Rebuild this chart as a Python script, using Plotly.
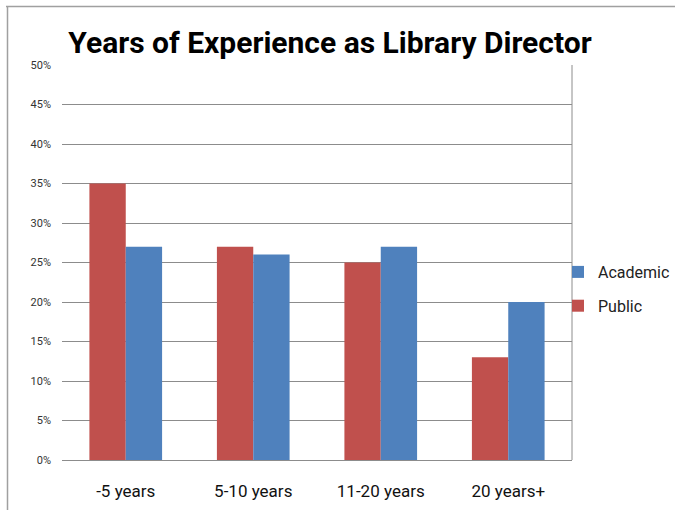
import plotly.graph_objects as go

categories = ["-5 years", "5-10 years", "11-20 years", "20 years+"]
public = [0.35, 0.27, 0.25, 0.13]
academic = [0.27, 0.26, 0.27, 0.20]
y_ticks = [0, 0.05, 0.10, 0.15, 0.20, 0.25, 0.30, 0.35, 0.40, 0.45, 0.50]

FONT = "Roboto, Open Sans, sans-serif"

fig = go.Figure()
fig.add_trace(go.Bar(name="Public", x=categories, y=public, marker_color="#C0504D",
                     marker_line_width=0, legendgroup="p", legendrank=2))
fig.add_trace(go.Bar(name="Academic", x=categories, y=academic, marker_color="#4F81BD",
                     marker_line_width=0, legendgroup="a", legendrank=1))

W, H = 675, 510
L, B = 62, 50
PW, PH = W - L, H - B          # paper area (margins r=0, t=0)
PLOT_R, PLOT_T = 572, 65       # plot area right/top in pixels

def px(x):
    return (x - L) / PW

def py(y):
    return (H - B - y) / PH

fig.update_layout(
    width=W, height=H,
    margin=dict(l=L, r=0, t=0, b=B, autoexpand=False),
    paper_bgcolor="white", plot_bgcolor="white",
    barmode="group", bargap=0.43, bargroupgap=0,
    title=dict(text="<b>Years of Experience as Library Director</b>",
               x=330 / W, xanchor="center", y=1 - 42 / H, yanchor="middle",
               font=dict(family=FONT, size=30, color="black")),
    legend=dict(x=px(558), xanchor="left", y=py(289), yanchor="middle",
                traceorder="grouped", font=dict(family=FONT, size=16, color="#222"),
                itemwidth=30, tracegroupgap=10, bgcolor="rgba(0,0,0,0)"),
    font=dict(family=FONT),
    showlegend=True,
)
fig.update_yaxes(range=[0, 0.5], tickvals=y_ticks, tickformat=".0%",
                 domain=[0, py(PLOT_T)],
                 showgrid=True, gridcolor="#8c8c8c", gridwidth=1,
                 zeroline=False, showline=False, automargin=False,
                 ticklabelstandoff=10,
                 tickfont=dict(family=FONT, size=11, color="#333"))
fig.update_xaxes(domain=[0, px(PLOT_R)], automargin=False,
                 showgrid=False, showline=True, linecolor="#8c8c8c", linewidth=1,
                 mirror=False, ticklabelstandoff=16,
                 tickfont=dict(family=FONT, size=17, color="#111"))

# plot area right border
fig.add_shape(type="line", xref="x domain", yref="y domain", x0=1, x1=1, y0=0, y1=1,
              line=dict(color="#8c8c8c", width=1))
# outer chart border (top and left)
fig.add_shape(type="line", xref="paper", yref="paper", x0=px(6), x1=px(675), y0=py(6.5), y1=py(6.5),
              line=dict(color="#a0a0a0", width=1.5))
fig.add_shape(type="line", xref="paper", yref="paper", x0=px(7.5), x1=px(7.5), y0=py(6), y1=py(510),
              line=dict(color="#a0a0a0", width=1.5))

fig.write_html("out.html", config={"displayModeBar": False},
               post_script="document.body.style.margin='0';")
